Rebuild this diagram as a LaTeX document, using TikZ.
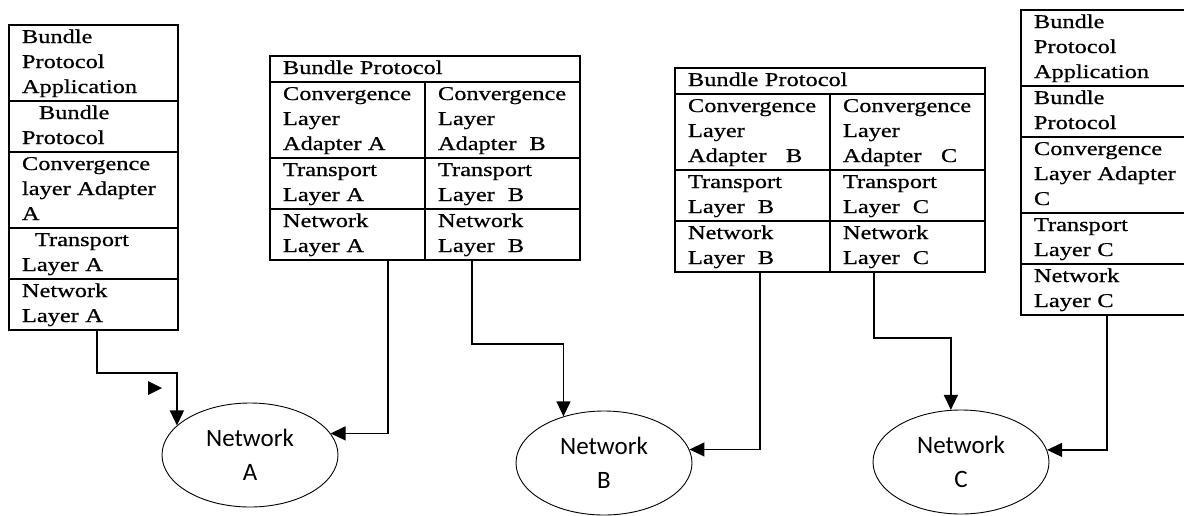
\documentclass[tikz,border=0pt]{standalone}
\usepackage{fontspec}
\setmainfont[FakeStretch=1.25,FakeBold=0.7]{Liberation Serif}
\newfontfamily\ovalfont{Carlito}
\usetikzlibrary{shapes.geometric,arrows.meta}
\begin{document}
\begin{tikzpicture}[x=1pt,y=-1pt,
		cell/.style={draw,line width=1.2pt,rectangle,align=left,inner xsep=13pt,inner ysep=0pt,outer sep=0pt,anchor=north west,font=\fontsize{19.5}{25}\selectfont,execute at begin node=\strut,execute at end node=\strut},
		one/.style={minimum height=26pt},
		two/.style={minimum height=51pt},
		three/.style={minimum height=76pt},
		net/.style={draw,ellipse,line width=0.9pt,minimum width=176pt,minimum height=104pt,inner sep=0pt,align=center,font=\ovalfont\fontsize{25}{34}\selectfont},
		conn/.style={line width=1.3pt,-{Triangle[length=15pt,width=14pt]}}]
	\useasboundingbox (0,0) rectangle (1184,515);
	\node[cell,three,text width=143pt] (a1) at (9,25) {Bundle\\Protocol\\Application};
	\node[cell,two,text width=143pt] (a2) at (a1.south west) {\hspace*{17pt}Bundle\\Protocol};
	\node[cell,three,text width=143pt] (a3) at (a2.south west) {Convergence\\layer Adapter\\A};
	\node[cell,two,text width=143pt] (a4) at (a3.south west) {\hspace*{13pt}Transport\\Layer A};
	\node[cell,two,text width=143pt] (a5) at (a4.south west) {Network\\Layer A};
	\node[cell,one,text width=284pt] (bh) at (270,56) {Bundle Protocol};
	\node[cell,three,text width=129pt] (b1) at (bh.south west) {Convergence\\Layer\\Adapter A};
	\node[cell,two,text width=129pt] (b2) at (b1.south west) {Transport\\Layer A};
	\node[cell,two,text width=129pt] (b3) at (b2.south west) {Network\\Layer A};
	\node[cell,three,text width=129pt] (b4) at (b1.north east) {Convergence\\Layer\\Adapter~~B};
	\node[cell,two,text width=129pt] (b5) at (b4.south west) {Transport\\Layer~~B};
	\node[cell,two,text width=129pt] (b6) at (b5.south west) {Network\\Layer~~B};
	\node[cell,one,text width=284pt] (ch) at (675,68) {Bundle Protocol};
	\node[cell,three,text width=129pt] (c1) at (ch.south west) {Convergence\\Layer\\Adapter~~~B};
	\node[cell,two,text width=129pt] (c2) at (c1.south west) {Transport\\Layer~~B};
	\node[cell,two,text width=129pt] (c3) at (c2.south west) {Network\\Layer~~B};
	\node[cell,three,text width=129pt] (c4) at (c1.north east) {Convergence\\Layer\\Adapter~~~C};
	\node[cell,two,text width=129pt] (c5) at (c4.south west) {Transport\\Layer~~C};
	\node[cell,two,text width=129pt] (c6) at (c5.south west) {Network\\Layer~~C};
	\node[cell,three,text width=146pt] (d1) at (1021,10) {Bundle\\Protocol\\Application};
	\node[cell,two,text width=146pt] (d2) at (d1.south west) {Bundle\\Protocol};
	\node[cell,three,text width=146pt] (d3) at (d2.south west) {Convergence\\Layer Adapter\\C};
	\node[cell,two,text width=146pt] (d4) at (d3.south west) {Transport\\Layer C};
	\node[cell,two,text width=146pt] (d5) at (d4.south west) {Network\\Layer C};
	\node[net] (netA) at (250,455) {Network\\A};
	\node[net] (netB) at (604,463) {Network\\B};
	\node[net] (netC) at (961,462) {Network\\C};
	\draw[conn] ([xshift=3.5pt]a5.south) -- ++(0,43) -| (netA.158);
	\fill (148,381) -- (162,388) -- (148,395) -- cycle;
	\draw[conn] ([xshift=40.5pt]b3.south) |- (netA.15);
	\draw[conn] ([xshift=-30.5pt]b6.south) -- ++(0,84) -| (netB.131);
	\draw[conn] ([xshift=7.5pt]c3.south) |- (netB.9);
	\draw[conn] ([xshift=-33.5pt]c6.south) -- ++(0,66) -| (netC.101);
	\draw[conn] (d5.south) |- (netC.8);
\end{tikzpicture}
\end{document}
